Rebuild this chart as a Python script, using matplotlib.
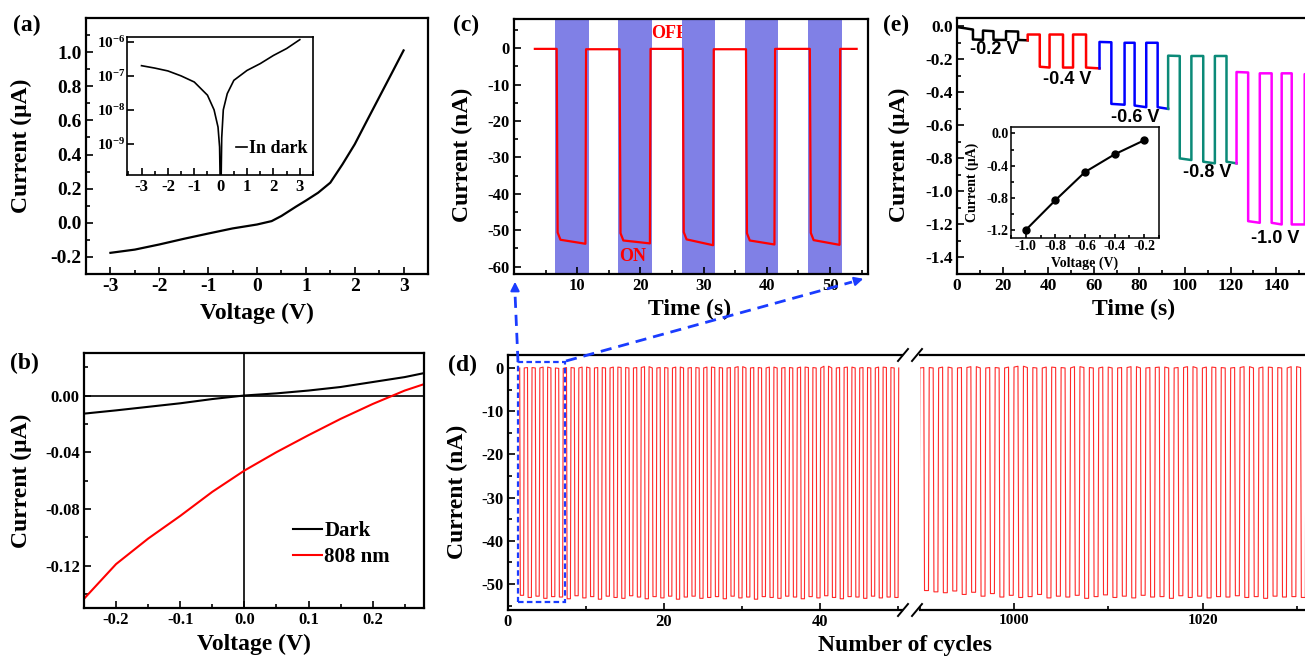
import numpy as np
import matplotlib
matplotlib.use('Agg')
import matplotlib.pyplot as plt
from matplotlib.lines import Line2D
from matplotlib.patches import Rectangle, FancyArrowPatch
from matplotlib.ticker import MultipleLocator, FixedLocator, FixedFormatter, FormatStrFormatter, NullLocator

plt.rcParams['font.family'] = 'Liberation Serif'
plt.rcParams['font.weight'] = 'bold'
plt.rcParams['axes.labelweight'] = 'bold'
plt.rcParams['axes.unicode_minus'] = False
plt.rcParams['mathtext.fontset'] = 'custom'
plt.rcParams['mathtext.rm'] = 'Liberation Serif:bold'
plt.rcParams['mathtext.bf'] = 'Liberation Serif:bold'
plt.rcParams['mathtext.it'] = 'Liberation Serif:bold:italic'

# ---------------- data ----------------
# (a) I-V in dark (linear)
a_v = [-3, -2.5, -2, -1.5, -1, -0.5, 0, 0.3, 0.5, 0.8, 1, 1.25, 1.5, 1.75, 2, 2.25, 2.5, 2.75, 3]
a_i = [-0.176, -0.157, -0.127, -0.094, -0.063, -0.033, -0.01, 0.01, 0.04, 0.095, 0.13, 0.176,
       0.235, 0.343, 0.46, 0.598, 0.735, 0.872, 1.01]
# (a) inset, |I| (A), log scale
a_in_v = [-3, -2.5, -2, -1.5, -1, -0.5, -0.25, -0.1, -0.04, 0.0, 0.04, 0.1, 0.25, 0.5, 1, 1.5, 2, 2.5, 3]
a_in_i = [2.0e-7, 1.7e-7, 1.4e-7, 1.0e-7, 6.6e-8, 2.7e-8, 1.0e-8, 3.1e-9, 8e-10, 1e-11, 1.5e-9,
          1.0e-8, 3.0e-8, 7.4e-8, 1.45e-7, 2.3e-7, 4.0e-7, 6.4e-7, 1.17e-6]
# (b) I-V near zero bias
b_v = [-0.25, -0.2, -0.15, -0.1, -0.05, 0, 0.05, 0.1, 0.15, 0.2, 0.25, 0.28]
b_dark = [-0.0128, -0.0105, -0.008, -0.0055, -0.0025, 0.0, 0.0015, 0.0035, 0.006, 0.0095, 0.013, 0.0158]
b_808 = [-0.1435, -0.119, -0.101, -0.085, -0.068, -0.053, -0.040, -0.028, -0.0165, -0.006, 0.0035, 0.008]
# (c) time response
c_band_start = [6.5, 16.5, 26.5, 36.5, 46.5]
c_band_end = [11.8, 21.8, 31.8, 41.8, 51.9]
c_t_first, c_t_last = 3.3, 54.2
c_off = [-0.2, -0.3, -0.2, -0.3, -0.2, -0.2]
c_on_start = [6.75, 16.7, 26.7, 36.7, 46.8]
c_on_end = [11.3, 21.5, 31.5, 41.2, 51.5]
c_on_first = [-52.6, -52.8, -52.5, -52.8, -52.7]
c_on_last = [-53.7, -53.6, -54.1, -53.9, -54.0]
# (d) long-term cycling: per-cycle ON / OFF current (nA)
d_cycle_1 = list(range(1, 50))
d_on_1 = [-52.6, -53.1, -52.8, -53.3, -52.9, -53.0, -53.4, -52.7, -53.2, -52.9,
          -53.5, -52.8, -53.1, -53.3, -52.7, -53.0, -53.4, -52.9, -53.2, -52.8,
          -53.5, -53.0, -52.8, -53.3, -53.1, -52.9, -53.4, -52.8, -53.2, -53.0,
          -53.5, -52.9, -53.1, -53.3, -52.8, -53.0, -53.4, -52.9, -53.2, -52.7,
          -53.1, -53.4, -52.9, -53.0, -53.3, -52.8, -53.2, -53.0, -53.1]
d_off_1 = [0.0, 0.1, 0.0, 0.2, 0.0, -0.1, 0.1, 0.0, 0.2, 0.0,
           0.1, 0.0, 0.2, 0.1, 0.0, 0.1, 0.3, 0.0, 0.1, 0.0,
           0.2, 0.0, 0.1, 0.0, 0.2, 0.1, 0.0, 0.1, 0.3, 0.0,
           0.1, 0.0, 0.2, 0.0, 0.1, 0.0, 0.2, 0.1, 0.0, 0.4,
           0.0, 0.1, 0.2, 0.0, 0.1, 0.0, 0.2, 0.1, 0.0]
d_cycle_2 = list(range(989, 1032))
d_on_2 = [-52.8, -51.5, -51.8, -52.0, -51.6, -52.4, -51.9, -52.8, -52.2, -53.0,
          -52.6, -53.1, -52.9, -52.4, -53.2, -52.8, -53.0, -52.6, -53.3, -52.9,
          -52.5, -53.1, -52.8, -53.2, -52.6, -53.0, -52.9, -53.3, -52.7, -53.1,
          -52.8, -53.2, -52.9, -53.0, -52.7, -53.1, -52.9, -53.3, -52.8, -53.0,
          -52.9, -53.1, -52.8]
d_off_2 = [0.0, 0.1, 0.0, 0.2, 0.0, 0.1, 0.3, 0.0, 0.1, 0.0,
           0.2, 0.4, 0.1, 0.0, 0.2, 0.1, 0.0, 0.3, 0.1, 0.0,
           0.2, 0.0, 0.1, 0.3, 0.0, 0.1, 0.2, 0.0, 0.1, 0.3,
           0.0, 0.2, 0.1, 0.0, 0.1, 0.3, 0.0, 0.2, 0.1, 0.0,
           0.3, 0.1, 0.0]
# (e) response at different bias
e_labels = ['-0.2 V', '-0.4 V', '-0.6 V', '-0.8 V', '-1.0 V']
e_colors = ['#000000', '#ff0000', '#0000ff', '#0b8a78', '#ff00ff']
e_t = [
    [0, 3.5, 7.0, 7.0, 11.4, 11.4, 16.0, 16.0, 21.5, 21.5, 26.8, 26.8, 31.0],
    [31.0, 31.0, 36.3, 36.3, 40.6, 40.6, 46.5, 46.5, 50.9, 50.9, 56.6, 56.6, 62.5],
    [62.5, 62.5, 67.7, 67.7, 73.5, 73.5, 77.9, 77.9, 83.0, 83.0, 88.0, 88.0, 92.6],
    [92.6, 92.6, 97.7, 97.7, 102.8, 102.8, 108.0, 108.0, 113.1, 113.1, 118.2, 118.2, 122.6],
    [122.6, 122.6, 127.7, 127.7, 132.8, 132.8, 138.0, 138.0, 142.4, 142.4, 146.8, 146.8, 152.5, 152.5, 158.0],
]
e_i = [
    [-0.005, -0.012, -0.02, -0.08, -0.082, -0.026, -0.03, -0.082, -0.083, -0.03, -0.032, -0.083, -0.085],
    [-0.085, -0.05, -0.05, -0.245, -0.25, -0.05, -0.05, -0.25, -0.25, -0.05, -0.05, -0.25, -0.255],
    [-0.255, -0.095, -0.097, -0.47, -0.475, -0.1, -0.1, -0.48, -0.49, -0.1, -0.1, -0.49, -0.50],
    [-0.50, -0.178, -0.18, -0.80, -0.81, -0.18, -0.18, -0.82, -0.83, -0.18, -0.18, -0.82, -0.83],
    [-0.83, -0.277, -0.28, -1.18, -1.19, -0.285, -0.285, -1.19, -1.20, -0.285, -0.285, -1.20, -1.20, -0.29, -0.29],
]
e_label_t = [16.2, 48.5, 78.0, 109.9, 139.5]
e_label_i = [-0.14, -0.32, -0.55, -0.885, -1.285]
e_in_v = [-1.0, -0.8, -0.6, -0.4, -0.2]
e_in_i = [-1.2, -0.83, -0.48, -0.26, -0.085]

# ---------------- layout helpers ----------------
W, H = 1305, 656
fig = plt.figure(figsize=(W / 100, H / 100), dpi=100)


def box(l, t, r, b):
    return [l / W, 1 - b / H, (r - l) / W, (b - t) / H]


def fx(x):
    return x / W


def fy(y):
    return 1 - y / H


def style(ax, fs, lw=1.6):
    for s in ax.spines.values():
        s.set_linewidth(lw)
    ax.tick_params(which='both', direction='in', top=False, right=False, labelsize=fs, width=1.2)
    ax.tick_params(which='major', length=5, pad=3)
    ax.tick_params(which='minor', length=3)


LBL = 17
BLUE = '#1a3cff'

# ---------------- (a) ----------------
ax = fig.add_axes(box(86, 18, 428, 274))
ax.plot(a_v, a_i, color='k', lw=1.6)
ax.set_xlim(-3.5, 3.5)
ax.set_ylim(-0.3, 1.2)
ax.xaxis.set_major_locator(FixedLocator([-3, -2, -1, 0, 1, 2, 3]))
ax.xaxis.set_minor_locator(MultipleLocator(0.5))
ax.yaxis.set_major_locator(FixedLocator([-0.2, 0.0, 0.2, 0.4, 0.6, 0.8, 1.0]))
ax.yaxis.set_minor_locator(MultipleLocator(0.1))
ax.yaxis.set_major_formatter(FormatStrFormatter('%.1f'))
style(ax, 14)
ax.set_xlabel('Voltage (V)', fontsize=LBL)
ax.set_ylabel('Current (μA)', fontsize=LBL)
ax.xaxis.set_label_coords(0.5, -0.113)
ax.yaxis.set_label_coords(-0.158, 0.5)

axi = fig.add_axes(box(127, 37, 313, 175))
axi.semilogy(a_in_v, a_in_i, color='k', lw=1.2, label='In dark')
axi.set_xlim(-3.55, 3.5)
axi.set_ylim(1.2e-10, 1.4e-6)
axi.xaxis.set_major_locator(FixedLocator([-3, -2, -1, 0, 1, 2, 3]))
axi.xaxis.set_minor_locator(MultipleLocator(0.5))
axi.yaxis.set_major_locator(FixedLocator([1e-9, 1e-8, 1e-7, 1e-6]))
axi.yaxis.set_major_formatter(FixedFormatter([r'$10^{-9}$', r'$10^{-8}$', r'$10^{-7}$', r'$10^{-6}$']))
axi.yaxis.set_minor_locator(NullLocator())
style(axi, 12, lw=1.2)
axi.tick_params(axis='y', labelsize=11, pad=1)
axi.legend(loc='lower right', bbox_to_anchor=(1.03, 0.05), frameon=False, fontsize=13,
           handlelength=0.6, handletextpad=0.15, borderpad=0.1)

# ---------------- (b) ----------------
ax = fig.add_axes(box(84, 353, 424, 608))
ax.axhline(0, color='k', lw=1.2)
ax.axvline(0, color='k', lw=1.2)
ax.plot(b_v, b_dark, color='k', lw=1.5, label='Dark')
ax.plot(b_v, b_808, color='#ff0000', lw=1.5, label='808 nm')
ax.set_xlim(-0.25, 0.28)
ax.set_ylim(-0.15, 0.03)
ax.xaxis.set_major_locator(FixedLocator([-0.2, -0.1, 0.0, 0.1, 0.2]))
ax.xaxis.set_minor_locator(MultipleLocator(0.05))
ax.xaxis.set_major_formatter(FormatStrFormatter('%.1f'))
ax.yaxis.set_major_locator(FixedLocator([-0.12, -0.08, -0.04, 0.0]))
ax.yaxis.set_minor_locator(MultipleLocator(0.02))
ax.yaxis.set_major_formatter(FormatStrFormatter('%.2f'))
style(ax, 12)
ax.set_xlabel('Voltage (V)', fontsize=LBL)
ax.set_ylabel('Current (μA)', fontsize=LBL)
ax.xaxis.set_label_coords(0.5, -0.1)
ax.yaxis.set_label_coords(-0.153, 0.5)
ax.legend(loc='center left', bbox_to_anchor=(0.56, 0.25), frameon=False, fontsize=15,
          handlelength=1.4, handletextpad=0.1, labelspacing=0.3)

# ---------------- (c) ----------------
ax = fig.add_axes(box(514, 19, 868, 274))
for s, e in zip(c_band_start, c_band_end):
    ax.axvspan(s, e, color='#8080e6', lw=0, zorder=1)
ct = [c_t_first]
ci = [c_off[0]]
for k, (ts, te, l1, l2) in enumerate(zip(c_on_start, c_on_end, c_on_first, c_on_last)):
    ct += [ts, ts + 0.15, ts + 0.6, te, te + 0.1]
    ci += [c_off[k], l1 + 2.0, l1, l2, c_off[k + 1]]
ct.append(c_t_last)
ci.append(c_off[-1])
ax.plot(ct, ci, color='#ff0000', lw=1.6, zorder=3)
ax.set_xlim(0, 56)
ax.set_ylim(-62, 8)
ax.xaxis.set_major_locator(FixedLocator([10, 20, 30, 40, 50]))
ax.xaxis.set_minor_locator(MultipleLocator(5))
ax.yaxis.set_major_locator(MultipleLocator(10))
ax.yaxis.set_minor_locator(MultipleLocator(5))
style(ax, 12)
ax.set_xlabel('Time (s)', fontsize=LBL)
ax.set_ylabel('Current (nA)', fontsize=LBL)
ax.xaxis.set_label_coords(0.497, -0.098)
ax.yaxis.set_label_coords(-0.116, 0.467)
ax.text(24.6, 4.0, 'OFF', color='#ff0000', fontsize=13, ha='center', va='center', zorder=0.5)
ax.text(18.8, -57.3, 'ON', color='#ff0000', fontsize=13, ha='center', va='center', zorder=4)

# ---------------- (d) ----------------
def cycle_wave(cycles, on, off, phase):
    x, y = [], []
    for n, lo, hi in zip(cycles, on, off):
        s = n + phase
        x += [s, s + 0.08, s + 0.5, s + 0.58]
        y += [hi, lo, lo, hi]
    return x, y


ax1 = fig.add_axes(box(508, 355, 902, 610))
ax2 = fig.add_axes(box(920, 355, 920 + 44 * 9.42, 610))
x1, y1 = cycle_wave(d_cycle_1, d_on_1, d_off_1, 0.5)
x2, y2 = cycle_wave(d_cycle_2, d_on_2, d_off_2, 0.4)
ax1.plot(x1, y1, color='#ff2a2a', lw=0.8)
ax2.plot(x2, y2, color='#ff2a2a', lw=0.8)
ax1.set_xlim(0, 50.5)
ax2.set_xlim(990, 1034)
for a in (ax1, ax2):
    a.set_ylim(-56, 3)
style(ax1, 12)
style(ax2, 12)
ax1.spines['right'].set_visible(False)
ax2.spines['left'].set_visible(False)
ax2.tick_params(axis='y', which='both', left=False, labelleft=False)
ax1.xaxis.set_major_locator(FixedLocator([0, 20, 40]))
ax1.xaxis.set_minor_locator(FixedLocator([10, 30, 50]))
ax2.xaxis.set_major_locator(FixedLocator([1000, 1020]))
ax2.xaxis.set_minor_locator(FixedLocator([990, 1010, 1030]))
ax2.tick_params(axis='x', labelsize=11)
ax1.yaxis.set_major_locator(MultipleLocator(10))
ax1.yaxis.set_minor_locator(MultipleLocator(5))
ax1.set_ylabel('Current (nA)', fontsize=LBL)
ax1.yaxis.set_label_coords(-0.102, 0.464)
fig.text(fx(905), fy(645), 'Number of cycles', fontsize=LBL, ha='center', va='center')
ax1.add_patch(Rectangle((1.24, -54.2), 6.06, 55.65, fill=False, ec=BLUE, lw=1.6,
                        ls=(0, (2.5, 1.5)), clip_on=False, zorder=5))
# break marks
for bx in (903, 917):
    for by in (355, 610):
        fig.add_artist(Line2D([fx(bx - 5), fx(bx + 5)], [fy(by + 6), fy(by - 6)],
                              transform=fig.transFigure, color='k', lw=1.4))

# zoom arrows from (d) to (c)
for (xa, ya), (xb, yb), (xc, yc) in [((518, 362), (515, 293), (515, 279)),
                                     ((566, 361), (852, 282), (866, 278))]:
    fig.add_artist(Line2D([fx(xa), fx(xb)], [fy(ya), fy(yb)], transform=fig.transFigure,
                          color=BLUE, lw=2.0, ls=(0, (4, 2.5))))
    fig.add_artist(FancyArrowPatch((fx(xb), fy(yb)), (fx(xc), fy(yc)), transform=fig.transFigure,
                                   arrowstyle='-|>', mutation_scale=13, color=BLUE, lw=1.5))

# ---------------- (e) ----------------
ax = fig.add_axes(box(957, 18, 957 + 160 * 2.28, 274))
for t, i, c in zip(e_t, e_i, e_colors):
    ax.plot(t, i, color=c, lw=1.8)
for t, i, s in zip(e_label_t, e_label_i, e_labels):
    ax.text(t, i, s, fontsize=13, ha='center', va='center', family='Liberation Sans', weight='bold')
ax.set_xlim(0, 160)
ax.set_ylim(-1.5, 0.05)
ax.xaxis.set_major_locator(FixedLocator([0, 20, 40, 60, 80, 100, 120, 140]))
ax.xaxis.set_minor_locator(MultipleLocator(10))
ax.yaxis.set_major_locator(FixedLocator([-1.4, -1.2, -1.0, -0.8, -0.6, -0.4, -0.2, 0.0]))
ax.yaxis.set_minor_locator(MultipleLocator(0.1))
ax.yaxis.set_major_formatter(FormatStrFormatter('%.1f'))
style(ax, 12.5)
ax.set_xlabel('Time (s)', fontsize=LBL)
ax.set_ylabel('Current (μA)', fontsize=LBL)
ax.xaxis.set_label_coords(0.484, -0.098)
ax.yaxis.set_label_coords(-0.128, 0.465)

axe = fig.add_axes(box(1011, 127, 1159, 238))
axe.plot(e_in_v, e_in_i, color='k', lw=1.5, marker='o', ms=5)
axe.set_xlim(-1.1, -0.1)
axe.set_ylim(-1.3, 0.08)
axe.xaxis.set_major_locator(FixedLocator([-1.0, -0.8, -0.6, -0.4, -0.2]))
axe.xaxis.set_major_formatter(FormatStrFormatter('%.1f'))
axe.xaxis.set_minor_locator(MultipleLocator(0.1))
axe.yaxis.set_major_locator(FixedLocator([-1.2, -0.8, -0.4, 0.0]))
axe.yaxis.set_major_formatter(FormatStrFormatter('%.1f'))
axe.yaxis.set_minor_locator(MultipleLocator(0.2))
style(axe, 10, lw=1.1)
axe.tick_params(which='major', length=3, pad=1.5)
axe.tick_params(which='minor', length=2)
axe.set_xlabel('Voltage (V)', fontsize=10, labelpad=0)
axe.set_ylabel('Current (μA)', fontsize=10, labelpad=0)
axe.xaxis.set_label_coords(0.5, -0.17)
axe.yaxis.set_label_coords(-0.215, 0.5)

# ---------------- panel letters ----------------
for s, x, y in [('(a)', 13, 25), ('(b)', 10, 363), ('(c)', 453, 25), ('(d)', 448, 365), ('(e)', 883, 25)]:
    fig.text(fx(x), fy(y), s, fontsize=17, ha='left', va='center')

fig.savefig('out.png', dpi=100)
